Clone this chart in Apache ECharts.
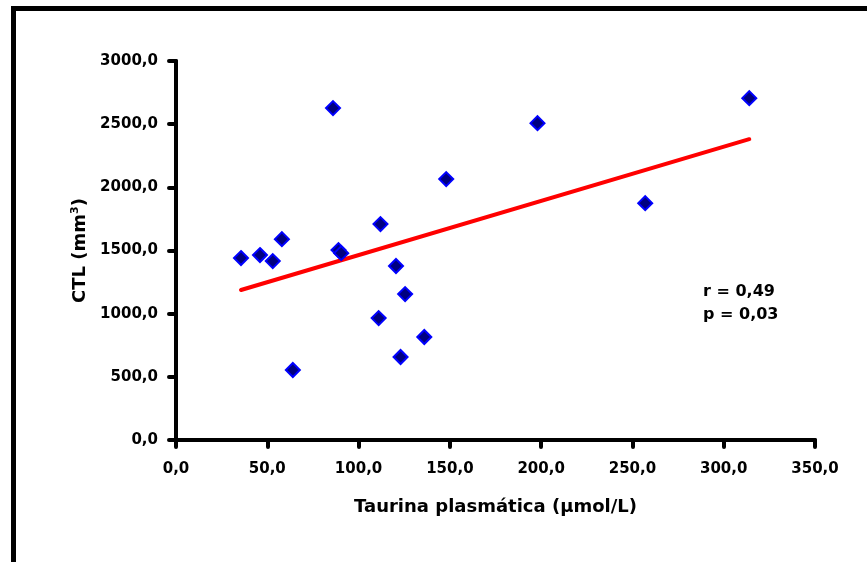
<!DOCTYPE html>
<html>
<head>
<meta charset="utf-8">
<script src="https://cdn.jsdelivr.net/npm/echarts@6/dist/echarts.min.js"></script>
<style>
html,body{margin:0;padding:0;background:#fff;}
#chart{width:867px;height:562px;}
</style>
</head>
<body>
<div id="chart"></div>
<script>
// Taurina plasmática (µmol/L) vs CTL (mm3)
var taurina = [35.6, 46, 53, 58, 64, 86, 89, 90.5, 112, 111, 120.5, 123, 125.5, 136, 148, 198, 257, 314];
var ctl     = [1440, 1464, 1416, 1590, 554, 2627, 1503, 1479, 1709, 965, 1377, 657, 1155, 815, 2065, 2508, 1875, 2706];
var trendX  = [35.6, 314];
var trendY  = [1187, 2381];
var statsText = ['r = 0,49', 'p = 0,03'];
var xTitle = 'Taurina plasmática (µmol/L)';

var FONT = '"DejaVu Sans", "Liberation Sans", Arial, sans-serif';
function fmt(v){ return v.toFixed(1).replace('.', ','); }

var pts = taurina.map(function(x, i){ return [x, ctl[i]]; });
var trend = trendX.map(function(x, i){ return [x, trendY[i]]; });

var chart = echarts.init(document.getElementById('chart'), null, {renderer: 'canvas'});
chart.setOption({
  backgroundColor: '#ffffff',
  animation: false,
  grid: {left: 176, right: 52, top: 61, bottom: 122, containLabel: false},
  xAxis: {
    type: 'value', min: 0, max: 350, interval: 50,
    name: xTitle, nameLocation: 'middle', nameGap: 58,
    nameTextStyle: {fontFamily: FONT, fontWeight: 'bold', fontSize: 18, color: '#000'},
    axisLine: {show: true, lineStyle: {color: '#000', width: 4, cap: 'round'}},
    axisTick: {show: true, inside: false, length: 7, lineStyle: {color: '#000', width: 4, cap: 'round'}},
    axisLabel: {formatter: fmt, margin: 22, fontFamily: FONT, fontWeight: 'bold', fontSize: 15, color: '#000'},
    splitLine: {show: false}
  },
  yAxis: {
    type: 'value', min: 0, max: 3000, interval: 500,
    name: '{m|CTL (mm}{s|3}{m|)}', nameLocation: 'middle', nameGap: 79, nameRotate: 90,
    nameTextStyle: {
      fontFamily: FONT, fontWeight: 'bold', fontSize: 18, color: '#000',
      rich: {
        m: {fontFamily: FONT, fontWeight: 'bold', fontSize: 18, color: '#000', lineHeight: 22},
        s: {fontFamily: FONT, fontWeight: 'bold', fontSize: 11, color: '#000', verticalAlign: 'top', lineHeight: 22}
      }
    },
    axisLine: {show: true, lineStyle: {color: '#000', width: 4, cap: 'round'}},
    axisTick: {show: true, inside: false, length: 7, lineStyle: {color: '#000', width: 4, cap: 'round'}},
    axisLabel: {formatter: fmt, margin: 18, fontFamily: FONT, fontWeight: 'bold', fontSize: 15, color: '#000'},
    splitLine: {show: false}
  },
  graphic: [
    {type: 'rect', silent: true, z: 100,
     shape: {x: 13.5, y: 8.5, width: 1000, height: 800},
     style: {fill: 'none', stroke: '#000', lineWidth: 5}},
    {type: 'text', left: 703, top: 280, z: 100,
     style: {text: statsText.join('\n'), font: 'bold 16px ' + FONT, fill: '#000', lineHeight: 23}}
  ],
  series: [
    {
      type: 'line', data: trend, symbol: 'none', z: 2,
      lineStyle: {color: '#FF0000', width: 4, cap: 'round'}
    },
    {
      type: 'scatter', data: pts, symbol: 'diamond', symbolSize: 14, z: 3,
      itemStyle: {color: '#000080', borderColor: '#0000FF', borderWidth: 2, opacity: 1}
    }
  ]
});
</script>
</body>
</html>
